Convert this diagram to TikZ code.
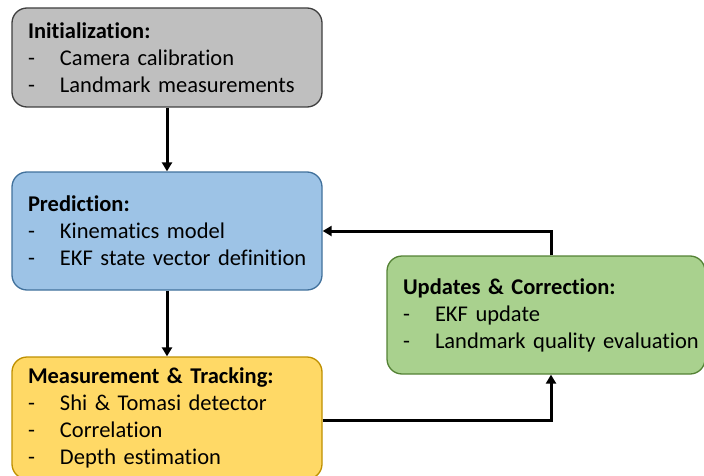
\documentclass[tikz,border=0pt]{standalone}
\usepackage{fontspec}
\setmainfont{Carlito}[Ligatures=NoCommon]
\usepackage{tikz}
\usetikzlibrary{arrows.meta,positioning}

\definecolor{initfill}{HTML}{BFBFBF}
\definecolor{initline}{HTML}{3F3F3F}
\definecolor{predfill}{HTML}{9DC3E6}
\definecolor{predline}{HTML}{41719C}
\definecolor{measfill}{HTML}{FFD966}
\definecolor{measline}{HTML}{BF9000}
\definecolor{updfill}{HTML}{A9D18E}
\definecolor{updline}{HTML}{548235}

\newcommand{\stepitem}[1]{\mbox{\makebox[32pt][l]{-}#1}}

\begin{document}
\begin{tikzpicture}[
			x=1pt,y=1pt,
			box/.style={draw,rounded corners=15pt,line width=1.3pt,
				align=left,inner xsep=16pt,
				font=\fontsize{22.5}{27}\selectfont},
			flow/.style={line width=3pt,-{Triangle[length=9pt,width=10pt]}}
			]

			\clip (0,0) rectangle (704,475);
			\useasboundingbox (0,0) rectangle (704,475);

			\node[box,fill=initfill,draw=initline,minimum width=310pt,minimum height=99pt,text width=278pt]
				(init) at (167,417.5) {\textbf{Initialization:}\\ \stepitem{Camera calibration}\\ \stepitem{Landmark measurements}};
			\node[box,fill=predfill,draw=predline,minimum width=310pt,minimum height=118pt,text width=278pt]
				(pred) at (167,244) {\textbf{Prediction:}\\ \stepitem{Kinematics model}\\ \stepitem{EKF state vector definition}};
			\node[box,fill=measfill,draw=measline,minimum width=310pt,minimum height=122pt,text width=278pt]
				(meas) at (167,57) {\textbf{Measurement \& Tracking:}\\ \stepitem{Shi \& Tomasi detector}\\ \stepitem{Correlation}\\ \stepitem{Depth estimation}};
			\node[box,fill=updfill,draw=updline,minimum width=318pt,minimum height=118pt,text width=286pt]
				(upd) at (546,160) {\textbf{Updates \& Correction:}\\ \stepitem{EKF update}\\ \stepitem{Landmark quality evaluation}};

			\draw[flow] (init) -- (pred);
			\draw[flow] (pred) -- (meas);
			\draw[flow] ([yshift=-2pt]meas.east) -| ([xshift=5pt]upd.south);
			\draw[flow] ([xshift=5pt]upd.north) |- (pred.east);

		\end{tikzpicture}
\end{document}
